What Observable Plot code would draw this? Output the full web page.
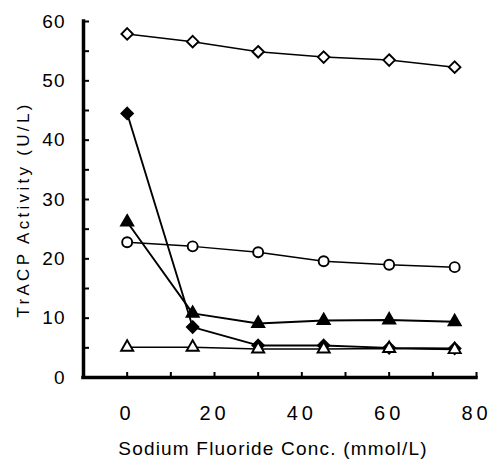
<!DOCTYPE html>
<html>
<head>
<meta charset="utf-8">
<script src="https://cdn.jsdelivr.net/npm/d3@7"></script>
<script src="https://cdn.jsdelivr.net/npm/@observablehq/plot@0.6"></script>
<style>
  body { margin: 0; background: white; }
</style>
</head>
<body>
<div id="chart"></div>
<script>
// Data
const conc = [0, 15, 30, 45, 60, 75];
const openDiamond   = [57.9, 56.6, 54.9, 54.0, 53.5, 52.3];
const filledDiamond = [44.5, 8.5, 5.4, 5.4, 5.0, 4.9];
const filledTriangle = [26.2, 10.8, 9.1, 9.6, 9.7, 9.4];
const openCircle    = [22.8, 22.1, 21.1, 19.6, 19.0, 18.6];
const openTriangle  = [5.1, 5.1, 4.8, 4.8, 4.9, 4.7];

const xTickLabels = [0, 20, 40, 60, 80];
const xTicks = [0, 10, 20, 30, 40, 50, 60, 70, 80];
const yTickLabels = [0, 10, 20, 30, 40, 50, 60];
const yTicks = [0, 5, 10, 15, 20, 25, 30, 35, 40, 45, 50, 55, 60];
const xLabel = "Sodium Fluoride Conc. (mmol/L)";
const yLabel = "TrACP Activity (U/L)";

const seriesDefs = [
  {name: "openDiamond", values: openDiamond, symbol: "diamond2", filled: false, r: 5.2},
  {name: "filledDiamond", values: filledDiamond, symbol: "diamond2", filled: true, r: 5.2},
  {name: "filledTriangle", values: filledTriangle, symbol: "triangle", filled: true, r: 4.5},
  {name: "openCircle", values: openCircle, symbol: "circle", filled: false, r: 5},
  {name: "openTriangle", values: openTriangle, symbol: "triangle", filled: false, r: 4.5}
];

const rows = seriesDefs.flatMap(s => conc.map((c, i) => ({series: s.name, x: c, y: s.values[i]})));

const lineMarks = seriesDefs.map(s =>
  Plot.line(rows.filter(d => d.series === s.name), {x: "x", y: "y", stroke: "black", strokeWidth: s.filled ? 1.9 : 1.5})
);
const dotMarks = seriesDefs.map(s =>
  Plot.dot(rows.filter(d => d.series === s.name), {
    x: "x", y: "y", symbol: () => s.symbol, r: s.r,
    fill: s.filled ? "black" : "white", stroke: "black", strokeWidth: 1.9
  })
);

const chart = Plot.plot({
  width: 492,
  height: 459,
  marginLeft: 83,
  marginRight: 16,
  marginTop: 21,
  marginBottom: 82,
  x: {domain: [-10, 80]},
  y: {domain: [0, 60]},
  symbol: {type: "identity"},
  style: {fontFamily: "'Liberation Sans', Arial, sans-serif", fontSize: "19px", background: "white", color: "black"},
  marks: [
    Plot.axisY({ticks: yTicks, tickSize: -6, strokeWidth: 2, tickFormat: () => "", label: null}),
    Plot.axisY({ticks: yTickLabels, tickSize: 0, tickPadding: 18, fontSize: 19, label: null}),
    Plot.axisX({ticks: xTicks, tickSize: -5, strokeWidth: 2, tickFormat: () => "", label: null}),
    Plot.axisX({ticks: xTickLabels, tickSize: 0, tickPadding: 28, fontSize: 20, label: null}),
    Plot.ruleX([-10], {y1: 0, y2: 60, stroke: "black", strokeWidth: 3.5, strokeLinecap: "square"}),
    Plot.ruleY([0], {x1: -10, x2: 80, stroke: "black", strokeWidth: 3.5, strokeLinecap: "square"}),
    ...lineMarks,
    ...dotMarks,
    Plot.text([xLabel], {text: d => d, frameAnchor: "bottom", textAnchor: "middle", lineAnchor: "middle", dy: 71, dx: -7, fontSize: 19}),
    Plot.text([yLabel], {text: d => d, frameAnchor: "left", textAnchor: "middle", lineAnchor: "middle", rotate: -90, dx: -60, dy: 10, fontSize: 17})
  ]
});

document.getElementById("chart").appendChild(chart);

// letter spacing tweaks
const svg = d3.select(chart);
svg.selectAll('g[aria-label="x-axis tick label"] text').attr("letter-spacing", "4px");
svg.selectAll('g[aria-label="y-axis tick label"] text').attr("letter-spacing", "1px");
svg.selectAll('g[aria-label="text"] text').each(function() {
  const t = d3.select(this);
  if (t.text() === yLabel) t.attr("letter-spacing", "3.3px");
  else if (t.text() === xLabel) t.attr("letter-spacing", "1.2px");
});
</script>
</body>
</html>
